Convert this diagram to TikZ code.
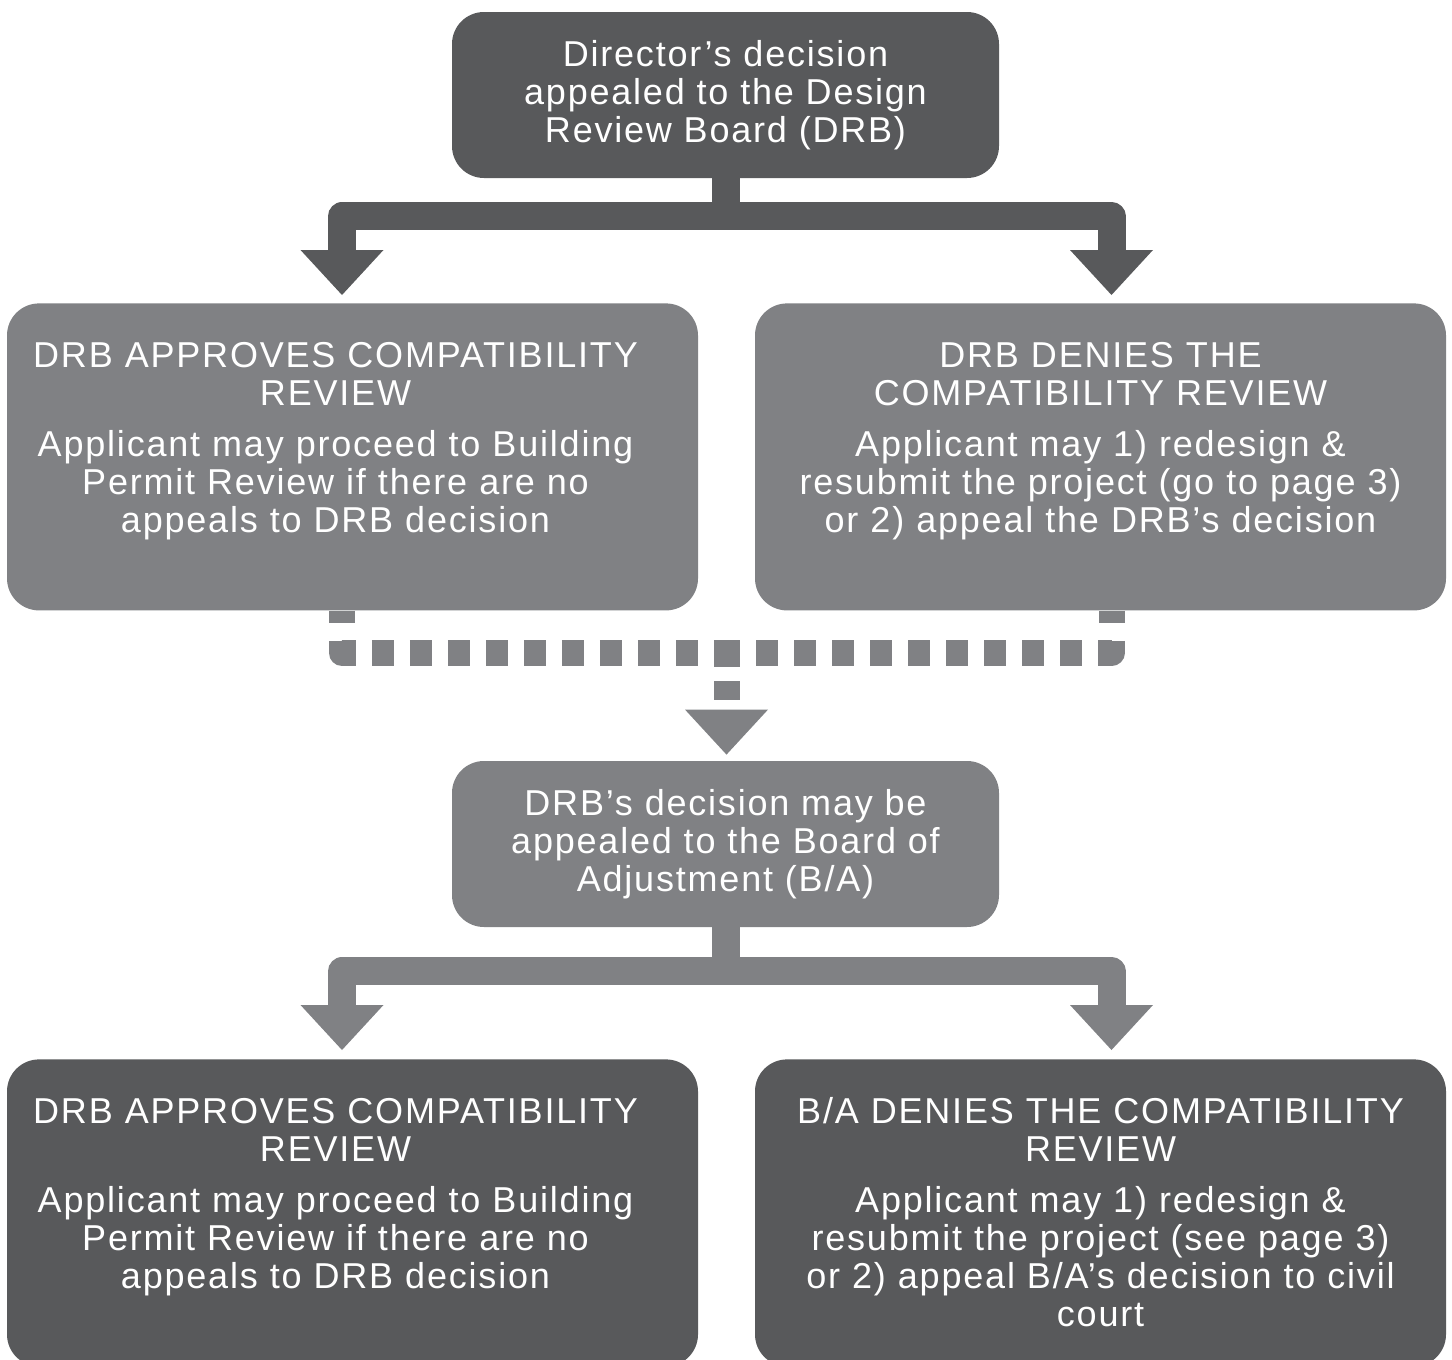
\documentclass[tikz,border=0pt]{standalone}
\usepackage{fontspec}
\setmainfont{Liberation Sans}[LetterSpace=5]
\usetikzlibrary{arrows.meta}

\definecolor{darkbox}{RGB}{88,89,91}
\definecolor{lightbox}{RGB}{128,129,132}

\begin{document}
\begin{tikzpicture}[x=0.5pt,y=-0.5pt,
    stage/.style={rounded corners=16pt, text=white, align=center,
      font=\fontsize{18pt}{19pt}\selectfont},
    smallbox/.style={stage, minimum width=273.5pt, minimum height=83pt, inner sep=0pt},
    bigbox/.style={stage, anchor=north, text width=340pt, minimum width=345.5pt,
      inner xsep=2.75pt, inner ysep=19pt, text height=13pt, text depth=102.5pt},
    leftbox/.style={bigbox,
      execute at begin node={\leftskip=0pt plus 1fil\rightskip=17pt plus 1fil}},
    conn/.style={line width=14pt, line join=round,
      -{Triangle[width=41.5pt,length=22.5pt,line width=0pt]}, shorten >=4pt},
    dashconn/.style={line width=13pt, line join=round, lightbox,
      dash pattern=on 6pt off 9pt on 13pt off 8pt on 11pt off 8pt on 11pt off 8pt
        on 11pt off 8pt on 11pt off 8pt on 11pt off 8pt on 11pt off 8pt
        on 11pt off 8pt on 11pt off 8pt on 11pt off 8pt on 20pt}]

  \useasboundingbox (0,0) rectangle (1452,1360);

  % boxes
  \node[smallbox, fill=darkbox] (director) at (725.5,95)
    {Director’s decision\\appealed to the Design\\Review Board (DRB)};

  \node[leftbox, fill=lightbox] (approve) at (352.5,303)
    {DRB APPROVES COMPATIBILITY\\REVIEW\\[6.5pt]Applicant may proceed to Building\\Permit Review if there are no\\appeals to DRB decision};
  \node[bigbox, fill=lightbox] (deny) at (1100.5,303)
    {DRB DENIES THE\\COMPATIBILITY REVIEW\\[6.5pt]Applicant may 1) redesign \&\\resubmit the project (go to page 3)\\or 2) appeal the DRB’s decision};

  \node[smallbox, fill=lightbox] (appeal) at (725.5,844)
    {DRB’s decision may be\\appealed to the Board of\\Adjustment (B/A)};

  \node[leftbox, fill=darkbox] (approveBA) at (352.5,1059)
    {DRB APPROVES COMPATIBILITY\\REVIEW\\[6.5pt]Applicant may proceed to Building\\Permit Review if there are no\\appeals to DRB decision};
  \node[bigbox, fill=darkbox] (denyBA) at (1100.5,1059)
    {B/A DENIES THE COMPATIBILITY\\REVIEW\\[6.5pt]Applicant may 1) redesign \&\\resubmit the project (see page 3)\\or 2) appeal B/A’s decision to civil\\court};

  % director -> DRB outcomes
  \draw[conn, darkbox] (director.south) -- ++(0,38) -| ([xshift=-5.25pt]approve.north);
  \draw[conn, darkbox] (director.south) -- ++(0,38) -| ([xshift=5.5pt]deny.north);

  % DRB outcomes -> B/A appeal (dashed)
  \coordinate (merge) at (726.5,653);
  \draw[dashconn] ([xshift=-5.25pt]approve.south) |- (merge);
  \draw[dashconn] ([xshift=5.5pt]deny.south) |- (merge);
  \draw[dashconn, dash pattern=on 7pt off 7pt on 9.5pt off 20pt,
    -{Triangle[width=41.5pt,length=22.5pt,line width=0pt]}, shorten >=3pt]
    (merge) -- (merge |- appeal.north);

  % B/A appeal -> B/A outcomes
  \draw[conn, lightbox, shorten >=4.5pt] (appeal.south) -- ++(0,44) -| ([xshift=-5.25pt]approveBA.north);
  \draw[conn, lightbox, shorten >=4.5pt] (appeal.south) -- ++(0,44) -| ([xshift=5.5pt]denyBA.north);
\end{tikzpicture}
\end{document}
